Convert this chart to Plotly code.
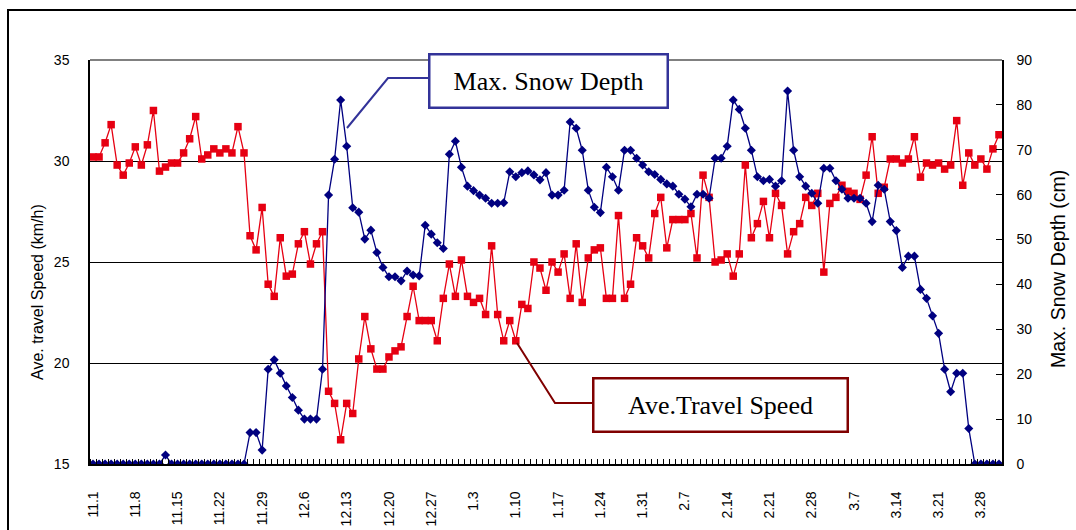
import plotly.graph_objects as go

# ---- data -------------------------------------------------------------
MONTH_DAYS = [(11, 30), (12, 31), (1, 31), (2, 28), (3, 31)]
dates = [f"{m}.{d}" for m, n in MONTH_DAYS for d in range(1, n + 1)]

tick_labels = ["11.1", "11.8", "11.15", "11.22", "11.29", "12.6", "12.13", "12.20",
               "12.27", "1.3", "1.10", "1.17", "1.24", "1.31", "2.7", "2.14", "2.21",
               "2.28", "3.7", "3.14", "3.21", "3.28"]

speed = [30.2, 30.2, 30.9, 31.8, 29.8, 29.3, 29.9, 30.7, 29.8, 30.8,
         32.5, 29.5, 29.7, 29.9, 29.9, 30.4, 31.1, 32.2, 30.1, 30.3,
         30.6, 30.4, 30.6, 30.4, 31.7, 30.4, 26.3, 25.6, 27.7, 23.9,
         23.3, 26.2, 24.3, 24.4, 25.9, 26.5, 24.9, 25.9, 26.5, 18.6,
         18.0, 16.2, 18.0, 17.5, 20.2, 22.3, 20.7, 19.7, 19.7, 20.3,
         20.6, 20.8, 22.3, 23.8, 22.1, 22.1, 22.1, 21.1, 23.2, 24.9,
         23.3, 25.1, 23.3, 23.0, 23.2, 22.4, 25.8, 22.4, 21.1, 22.1,
         21.1, 22.9, 22.7, 25.0, 24.7, 23.6, 25.0, 24.5, 25.4, 23.2,
         25.9, 23.0, 25.2, 25.6, 25.7, 23.2, 23.2, 27.3, 23.2, 23.9,
         26.2, 25.8, 25.2, 27.4, 28.2, 25.7, 27.1, 27.1, 27.1, 27.4,
         25.2, 29.3, 28.2, 25.0, 25.1, 25.4, 24.3, 25.4, 29.8, 26.2,
         26.9, 28.0, 26.2, 28.4, 27.8, 25.4, 26.5, 26.9, 28.2, 27.8,
         28.4, 24.5, 27.9, 28.2, 28.8, 28.5, 28.4, 28.1, 29.3, 31.2,
         28.4, 28.7, 30.1, 30.1, 29.9, 30.1, 31.2, 29.2, 29.9, 29.8,
         29.9, 29.6, 29.8, 32.0, 28.8, 30.4, 29.8, 30.1, 29.6, 30.6, 31.3]

snow = [0, 0, 0, 0, 0, 0, 0, 0, 0, 0,
        0, 0, 2.0, 0, 0, 0, 0, 0, 0, 0,
        0, 0, 0, 0, 0, 0, 7.0, 7.0, 3.1, 21.1,
        23.2, 20.2, 17.4, 14.8, 12.0, 10.0, 10.0, 10.0, 21.1, 59.9,
        67.9, 81.1, 70.8, 57.1, 56.1, 50.1, 52.1, 47.1, 43.8, 41.7,
        41.7, 40.8, 43.0, 42.1, 41.9, 53.2, 51.2, 49.3, 48.0, 69.0,
        71.9, 66.1, 61.9, 60.9, 59.9, 59.2, 58.1, 58.1, 58.2, 65.1,
        64.0, 64.9, 65.3, 64.4, 63.3, 64.9, 59.9, 59.9, 61.0, 76.2,
        74.8, 69.9, 61.0, 57.2, 56.0, 66.1, 64.0, 61.0, 69.9, 69.9,
        68.1, 66.6, 65.1, 64.5, 63.4, 62.4, 61.9, 60.1, 59.0, 57.3,
        60.1, 60.1, 59.2, 68.1, 68.1, 70.8, 81.1, 79.0, 74.8, 69.9,
        64.0, 63.1, 63.4, 61.9, 63.1, 83.1, 69.9, 64.0, 61.9, 60.3,
        58.1, 65.9, 65.9, 63.1, 61.2, 59.2, 59.2, 59.2, 58.1, 54.0,
        62.1, 61.2, 54.0, 52.0, 43.8, 46.3, 46.3, 38.9, 36.9, 33.0,
        29.1, 21.1, 16.1, 20.2, 20.2, 7.9, 0, 0, 0, 0, 0]

speed_ticks = [15, 20, 25, 30, 35]
snow_ticks = [0, 10, 20, 30, 40, 50, 60, 70, 80, 90]

# ---- layout geometry (pixels) ------------------------------------------
W, H = 1076, 530
L, R, T, B = 90, 1002, 60, 464


def px(x):
    return (x - L) / (R - L)


def py(y):
    return (B - y) / (B - T)


RED = "#E60012"
NAVY = "#000080"
SANS = "Arial, Liberation Sans, sans-serif"
SERIF = "Times New Roman, Liberation Serif, serif"

xpos = list(range(len(dates)))          # category slots
tickpos = [dates.index(t) for t in tick_labels]

fig = go.Figure()
fig.add_trace(go.Scatter(
    x=xpos, y=speed, mode="lines+markers", name="Ave.Travel Speed",
    customdata=dates, hovertemplate="%{customdata}: %{y}<extra></extra>",
    line=dict(color=RED, width=1.3),
    marker=dict(symbol="square", size=7.5, color=RED),
    yaxis="y"))
fig.add_trace(go.Scatter(
    x=xpos, y=snow, mode="lines+markers", name="Max. Snow Depth",
    customdata=dates, hovertemplate="%{customdata}: %{y}<extra></extra>",
    line=dict(color=NAVY, width=1.3),
    marker=dict(symbol="diamond", size=7, color=NAVY),
    yaxis="y2"))

fig.update_layout(
    width=W, height=H, template="none",
    margin=dict(l=L, r=W - R, t=T, b=H - B, pad=0),
    paper_bgcolor="white", plot_bgcolor="white",
    showlegend=False,
    font=dict(family=SANS, size=14, color="black"),
    xaxis=dict(type="linear", tickmode="array", tickvals=tickpos, ticktext=tick_labels,
               ticks="", tickangle=-90, showgrid=False, zeroline=False,
               minor=dict(tick0=0.5, dtick=1, ticks="inside", ticklen=5,
                          tickwidth=1, tickcolor="black", showgrid=False),
               showline=True, linecolor="black", linewidth=1.5,
               range=[-0.5, len(dates) - 0.5], automargin=False,
               ticklabelstandoff=20, tickfont=dict(size=14, family=SANS)),
    yaxis=dict(range=[15, 35], tickvals=speed_ticks, ticks="inside", ticklen=6,
               tickcolor="black", showgrid=True, gridcolor="black", gridwidth=1.2,
               showline=True, linecolor="black", linewidth=1.5, zeroline=False,
               automargin=False, ticklabelstandoff=16,
               tickfont=dict(size=14, family=SANS)),
    yaxis2=dict(range=[0, 90], tickvals=snow_ticks, overlaying="y", side="right",
                ticks="inside", ticklen=6, tickcolor="black", showgrid=False,
                showline=True, linecolor="black", linewidth=1.5, zeroline=False,
                automargin=False, ticklabelstandoff=10,
                tickfont=dict(size=14, family=SANS)),
)

shapes = [
    # outer chart frame
    dict(type="rect", xref="paper", yref="paper", x0=px(8), x1=px(1090),
         y0=py(10), y1=py(545), line=dict(color="black", width=2)),
    # top edge of plot area
    dict(type="line", xref="paper", yref="paper", x0=0, x1=1, y0=1, y1=1,
         line=dict(color="#808080", width=2)),
    # leader lines
    dict(type="path", xref="paper", yref="paper",
         path=f"M {px(429)},{py(78)} L {px(388)},{py(78)} L {px(347)},{py(128)}",
         line=dict(color="#333399", width=2)),
    dict(type="path", xref="paper", yref="paper",
         path=f"M {px(517)},{py(343)} L {px(555)},{py(403)} L {px(593)},{py(403)}",
         line=dict(color="#800000", width=2)),
]
fig.update_layout(shapes=shapes)

annotations = [
    dict(text="Max. Snow Depth", xref="paper", yref="paper",
         x=px(548.5), y=py(81), xanchor="center", yanchor="middle",
         showarrow=False, font=dict(family=SERIF, size=26, color="black"),
         bgcolor="white", bordercolor="#333399", borderwidth=2.5, borderpad=0,
         width=236, height=51),
    dict(text="Ave.Travel Speed", xref="paper", yref="paper",
         x=px(720.5), y=py(405), xanchor="center", yanchor="middle",
         showarrow=False, font=dict(family=SERIF, size=26, color="black"),
         bgcolor="white", bordercolor="#800000", borderwidth=2.5, borderpad=0,
         width=252, height=51),
    dict(text="Ave. travel Speed (km/h)", xref="paper", yref="paper",
         x=px(37), y=py(292), xanchor="center", yanchor="middle", textangle=-90,
         showarrow=False, font=dict(family=SANS, size=16, color="black")),
    dict(text="Max. Snow Depth (cm)", xref="paper", yref="paper",
         x=px(1058), y=py(269), xanchor="center", yanchor="middle", textangle=-90,
         showarrow=False, font=dict(family=SANS, size=19.5, color="black")),
]
fig.update_layout(annotations=annotations)

fig.write_html(
    "out.html",
    config={"displayModeBar": False},
    post_script="document.body.style.margin='0';document.body.style.overflow='hidden';",
)
